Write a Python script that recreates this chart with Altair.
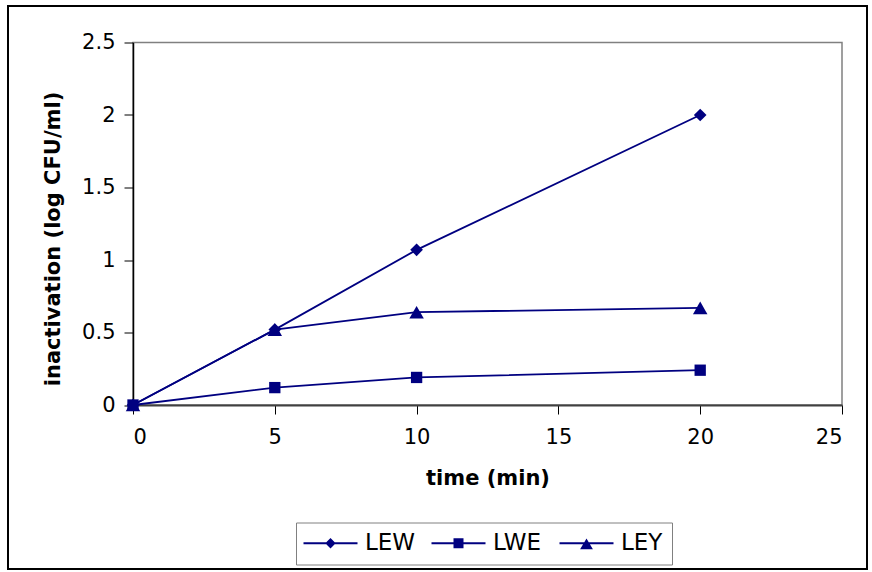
import altair as alt
import pandas as pd

# Inactivation over time for three treatments
times = [0, 5, 10, 20]
series_names = ["LEW", "LWE", "LEY"]
lew = [0.0, 0.52, 1.07, 2.0]
lwe = [0.0, 0.12, 0.19, 0.24]
ley = [0.0, 0.52, 0.64, 0.67]

x_ticks = [0, 5, 10, 15, 20, 25]
y_ticks = [0, 0.5, 1, 1.5, 2, 2.5]

NAVY = "#000080"
FONT = "DejaVu Sans"

rows = []
for name, vals in zip(series_names, [lew, lwe, ley]):
    for t, v in zip(times, vals):
        rows.append({"series": name, "entry": name, "time": t, "value": v})
df = pd.DataFrame(rows)

x_enc = alt.X(
    "time:Q",
    scale=alt.Scale(domain=[0, 25], nice=False, zero=False),
    axis=alt.Axis(
        values=x_ticks, title="time (min)", grid=False,
        tickSize=9, tickColor="#000000", domainColor="#404040", domainWidth=2,
        labelFont=FONT, labelFontSize=21, labelColor="#000000", labelPadding=12,
        titleFont=FONT, titleFontSize=21, titleFontWeight="bold",
        titleColor="#000000", titlePadding=20,
    ),
)
y_enc = alt.Y(
    "value:Q",
    scale=alt.Scale(domain=[0, 2.5], nice=False),
    axis=alt.Axis(
        values=y_ticks, format="~g", title="inactivation (log CFU/ml)", grid=False,
        tickSize=9, tickColor="#000000", domainColor="#000000", domainWidth=1.5,
        labelFont=FONT, labelFontSize=21, labelColor="#000000", labelPadding=9,
        titleFont=FONT, titleFontSize=21, titleFontWeight="bold",
        titleColor="#000000", titlePadding=18, titleY=196,
    ),
)

base = alt.Chart(df)

lines = base.mark_line(color=NAVY, strokeWidth=1.8).encode(
    x=x_enc, y=y_enc, detail="series:N"
)

# One marker layer per series, each with its own shape and size
marker_shapes = ["diamond", "square", "triangle-up"]
marker_sizes = [160, 128, 210]
marker_layers = [
    base.transform_filter(alt.datum.series == name)
    .mark_point(filled=True, color=NAVY, opacity=1, shape=shape, size=size, strokeWidth=0)
    .encode(x=x_enc, y=y_enc)
    for name, shape, size in zip(series_names, marker_shapes, marker_sizes)
]

# Legend glyphs: a line segment with the series marker in the middle.
# Symbol unit is 8px; the glyph is shifted right so the line spans the entry.
bar = "M-1.625,-0.12H5.125V0.12H-1.625Z "
legend_paths = [
    bar + "M1.75,-0.65L2.4,0L1.75,0.65L1.1,0Z",
    bar + "M1.125,-0.625H2.375V0.625H1.125Z",
    bar + "M1.75,-0.6L2.55,0.75H0.95Z",
]

legend_layer = base.mark_point(filled=True, color=NAVY, opacity=0, size=256).encode(
    x=x_enc,
    y=y_enc,
    shape=alt.Shape(
        "entry:N",
        scale=alt.Scale(domain=series_names, range=legend_paths),
        legend=alt.Legend(
            title=None, orient="none", legendX=163, legendY=480,
            direction="horizontal", gridAlign="all",
            strokeColor="#808080", padding=9,
            symbolSize=256, symbolOpacity=1, symbolFillColor=NAVY,
            symbolStrokeWidth=0, labelOffset=37, columnPadding=15,
            labelFont=FONT, labelFontSize=23, labelColor="#000000",
        ),
    ),
)

frame = alt.Chart(pd.DataFrame({"k": [0]})).mark_rect(
    fill=None, stroke="#000000", strokeWidth=2
).encode(
    x=alt.value(-125), x2=alt.value(734), y=alt.value(-36.5), y2=alt.value(526.5)
)

chart = (
    alt.layer(frame, lines, *marker_layers, legend_layer)
    .properties(
        width=709, height=362.5,
        autosize=alt.AutoSizeParams(type="none"),
        padding={"left": 133, "top": 42.5, "right": 30, "bottom": 167},
        background="#ffffff",
    )
    .configure_view(stroke="#808080", strokeWidth=1.5)
)

chart.save("out.html", embed_options={"renderer": "svg", "actions": False})
